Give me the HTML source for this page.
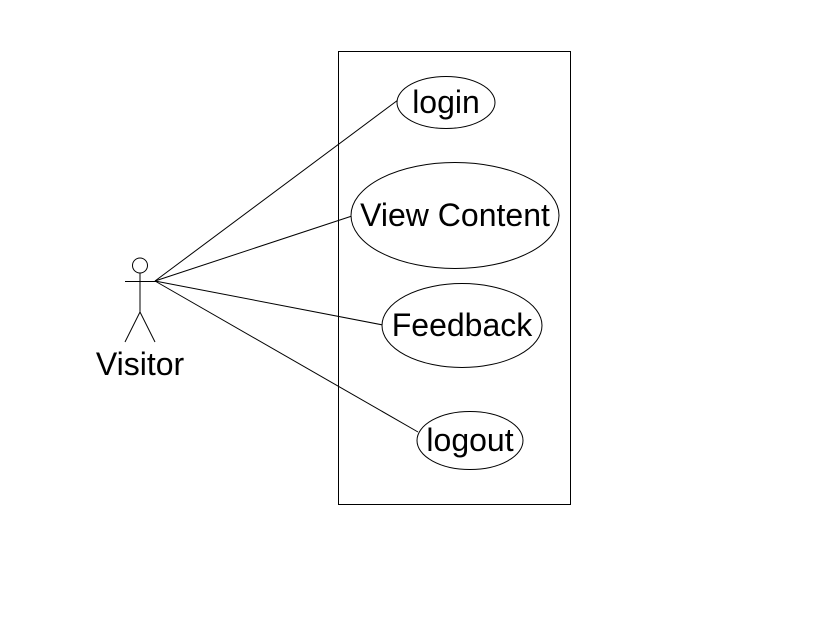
<!DOCTYPE html>
<html><head><style>body{margin:0;background:#fff}svg{display:block}</style></head>
<body>
<svg width="819" height="621" viewBox="0 0 819 621" xmlns="http://www.w3.org/2000/svg" font-family="Liberation Sans, sans-serif" font-size="32">
<rect x="338.5" y="51.5" width="232" height="453" fill="none" stroke="#000"/>
<g stroke="#000" fill="none" stroke-width="1">
<circle cx="140" cy="265.5" r="7.5"/>
<line x1="140" y1="273" x2="140" y2="312"/>
<line x1="125" y1="281.5" x2="157" y2="281.5"/>
<line x1="140" y1="312" x2="125" y2="342"/>
<line x1="140" y1="312" x2="155" y2="342"/>
<line x1="155" y1="281" x2="398" y2="100"/>
<line x1="155" y1="281" x2="352" y2="216"/>
<line x1="155" y1="281" x2="383" y2="325"/>
<line x1="155" y1="281" x2="418" y2="432"/>
<ellipse cx="446" cy="102.5" rx="49" ry="26" fill="#fff"/>
<ellipse cx="455" cy="215.5" rx="104" ry="53" fill="#fff"/>
<ellipse cx="462" cy="325.5" rx="80" ry="42" fill="#fff"/>
<ellipse cx="470" cy="440.5" rx="53" ry="29" fill="#fff"/>
</g>
<g fill="#000" text-anchor="middle">
<text x="140" y="375">Visitor</text>
<text x="446" y="113">login</text>
<text x="455" y="226">View Content</text>
<text x="462" y="336">Feedback</text>
<text x="470" y="451">logout</text>
</g>
</svg>
</body></html>
